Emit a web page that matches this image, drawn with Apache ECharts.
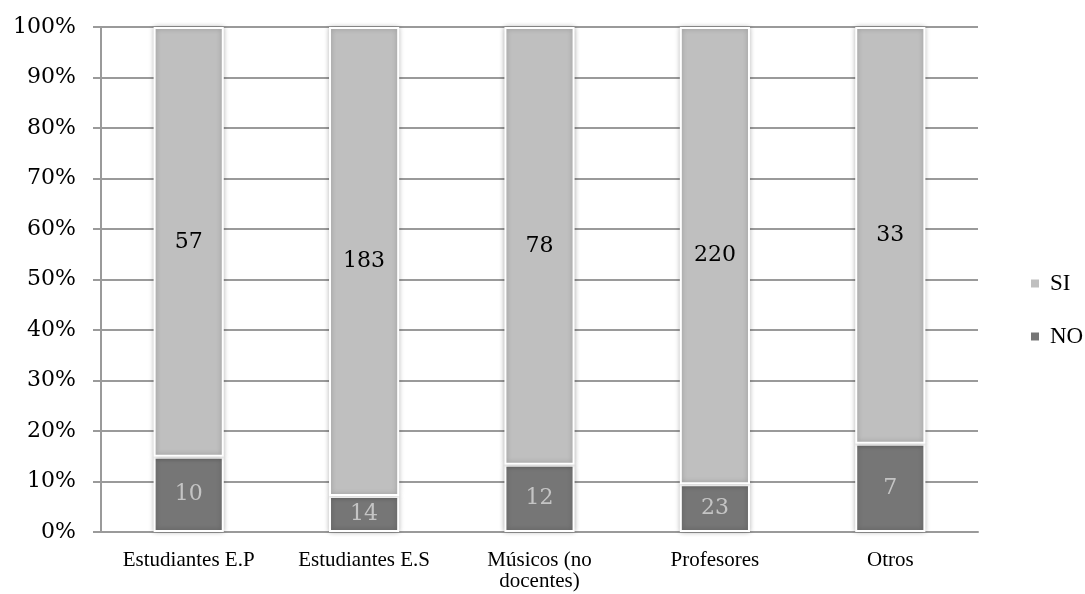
<!DOCTYPE html>
<html>
<head>
<meta charset="utf-8">
<script src="https://cdn.jsdelivr.net/npm/echarts@6/dist/echarts.min.js"></script>
<style>
  html, body { margin: 0; padding: 0; background: #fff; }
  #chart { width: 1085px; height: 594px; }
</style>
</head>
<body>
<div id="chart"></div>
<script>
// Respondent groups and answer counts
const categories = ['Estudiantes E.P', 'Estudiantes E.S', 'Músicos (no\ndocentes)', 'Profesores', 'Otros'];
const siCounts = [57, 183, 78, 220, 33];
const noCounts = [10, 14, 12, 23, 7];
const yTicks = [0, 10, 20, 30, 40, 50, 60, 70, 80, 90, 100];

// Share of each answer within its group (100% stacked)
const totals = siCounts.map((v, i) => v + noCounts[i]);
const siShare = siCounts.map((v, i) => ({ value: v / totals[i] * 100, count: v }));
const noShare = noCounts.map((v, i) => ({ value: v / totals[i] * 100, count: v }));

const chart = echarts.init(document.getElementById('chart'));

const barStyle = (color) => ({
  color: color,
  borderColor: '#ffffff',
  borderWidth: 2,
  shadowBlur: 5,
  shadowColor: 'rgba(0,0,0,0.28)'
});

chart.setOption({
  animation: false,
  backgroundColor: '#ffffff',
  grid: { left: 101, right: 107, top: 27, bottom: 62, containLabel: false },
  legend: {
    orient: 'vertical',
    left: 1024,
    top: 267,
    itemGap: 30,
    itemWidth: 10,
    itemHeight: 10,
    icon: 'rect',
    data: ['SI', 'NO'],
    textStyle: { fontFamily: 'Liberation Serif', fontSize: 23, color: '#000', padding: [0, 0, 0, 5] }
  },
  xAxis: {
    type: 'category',
    data: categories,
    axisLine: { show: true, lineStyle: { color: '#9a9a9a', width: 2 } },
    axisTick: { show: false },
    axisLabel: {
      margin: 18,
      fontFamily: 'Liberation Serif',
      fontSize: 21,
      lineHeight: 21,
      color: '#000',
      interval: 0
    }
  },
  yAxis: {
    type: 'value',
    min: 0,
    max: 100,
    interval: 10,
    axisLine: { show: true, lineStyle: { color: '#9a9a9a', width: 2 } },
    axisTick: { show: true, length: 8, lineStyle: { color: '#9a9a9a', width: 2 } },
    splitLine: { show: true, lineStyle: { color: '#9a9a9a', width: 2 } },
    axisLabel: {
      margin: 25,
      fontFamily: 'DejaVu Serif',
      fontSize: 22,
      color: '#000',
      formatter: (v) => yTicks.includes(v) ? v + '%' : ''
    }
  },
  series: [
    {
      name: 'NO',
      type: 'bar',
      stack: 'total',
      barWidth: '40%',
      data: noShare,
      itemStyle: barStyle('#767676'),
      label: {
        show: true,
        position: 'inside',
        formatter: (p) => p.data.count,
        fontFamily: 'DejaVu Serif',
        fontSize: 22,
        color: '#c4c4c4'
      }
    },
    {
      name: 'SI',
      type: 'bar',
      stack: 'total',
      barWidth: '40%',
      data: siShare,
      itemStyle: barStyle('#bfbfbf'),
      label: {
        show: true,
        position: 'inside',
        formatter: (p) => p.data.count,
        fontFamily: 'DejaVu Serif',
        fontSize: 22,
        color: '#000'
      }
    }
  ]
});
</script>
</body>
</html>
